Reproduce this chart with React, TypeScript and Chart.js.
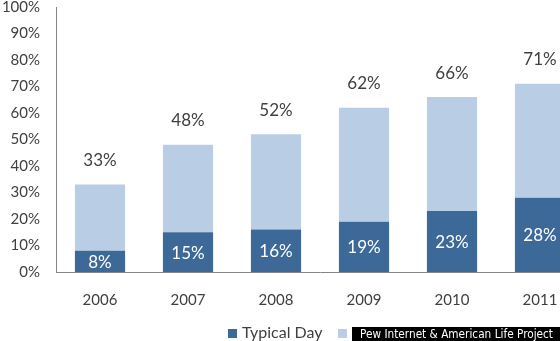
import React, { useEffect, useRef } from "react";
import { Chart, registerables } from "chart.js";

Chart.register(...registerables);

const years = ["2006", "2007", "2008", "2009", "2010", "2011"];
const typicalDay = [8, 15, 16, 19, 23, 28];
const totals = [33, 48, 52, 62, 66, 71];
const yTicks = [0, 10, 20, 30, 40, 50, 60, 70, 80, 90, 100];

const DARK = "#3C6997";
const LIGHT = "#B9CDE4";
const TEXT = "#404040";
const FONT = "Lato, 'Open Sans', sans-serif";

export default function App() {
  const ref = useRef<HTMLCanvasElement>(null);

  useEffect(() => {
    document.body.style.margin = "0";
    const canvas = ref.current!;
    const labelPlugin = {
      id: "labels",
      afterDatasetsDraw(chart: any) {
        const ctx = chart.ctx;
        const yScale = chart.scales.y;
        const meta0 = chart.getDatasetMeta(0);
        ctx.save();
        ctx.textAlign = "center";
        ctx.textBaseline = "middle";
        ctx.font = `17px ${FONT}`;
        meta0.data.forEach((bar: any, i: number) => {
          ctx.fillStyle = "#FFFFFF";
          ctx.fillText(typicalDay[i] + "%", bar.x, (bar.y + bar.base) / 2 + 1);
          ctx.fillStyle = TEXT;
          ctx.fillText(totals[i] + "%", bar.x, yScale.getPixelForValue(totals[i]) - 24);
        });
        ctx.restore();
      },
      afterDraw(chart: any) {
        const ctx = chart.ctx;
        ctx.save();
        ctx.fillStyle = DARK;
        ctx.fillRect(228, 329, 9, 9);
        ctx.fillStyle = TEXT;
        ctx.font = `16px ${FONT}`;
        ctx.textAlign = "left";
        ctx.textBaseline = "alphabetic";
        ctx.fillText("Typical Day", 242, 338);
        ctx.fillStyle = LIGHT;
        ctx.fillRect(338, 329, 9, 9);
        ctx.fillStyle = "#000000";
        ctx.fillRect(352, 327, 220, 16);
        ctx.fillStyle = "#FFFFFF";
        ctx.font = `12px 'DejaVu Sans', sans-serif`;
        ctx.textBaseline = "middle";
        ctx.fillText("Pew Internet & American Life Project", 360, 335, 193);
        ctx.restore();
      },
    };

    const chart = new Chart(canvas, {
      type: "bar",
      data: {
        labels: years,
        datasets: [
          {
            label: "Typical Day",
            data: typicalDay,
            backgroundColor: DARK,
            barPercentage: 0.57,
            categoryPercentage: 1,
          },
          {
            label: "Ever",
            data: totals.map((t, i) => t - typicalDay[i]),
            backgroundColor: LIGHT,
            barPercentage: 0.57,
            categoryPercentage: 1,
          },
        ],
      },
      options: {
        responsive: false,
        animation: false,
        layout: { padding: { top: 7, left: 0, right: 6, bottom: 0 } },
        plugins: { legend: { display: false }, tooltip: { enabled: false } },
        scales: {
          x: {
            stacked: true,
            grid: { display: false, drawTicks: false },
            border: { display: true, color: "#868686" },
            ticks: { color: TEXT, font: { family: FONT, size: 15 }, padding: 19 },
            afterFit: (s: any) => {
              s.height = 69;
              s.paddingLeft = 0;
              s.paddingRight = 0;
            },
          },
          y: {
            stacked: true,
            min: 0,
            max: 100,
            grid: { display: false, drawTicks: false },
            border: { display: true, color: "#868686" },
            afterBuildTicks: (s: any) => {
              s.ticks = yTicks.map((v) => ({ value: v }));
            },
            ticks: {
              color: TEXT,
              font: { family: FONT, size: 15 },
              padding: 16,
              callback: (v: any) => v + "%",
            },
            afterFit: (s: any) => {
              s.width = 56;
              s.paddingTop = 0;
              s.paddingBottom = 0;
            },
          },
        },
      },
      plugins: [labelPlugin],
    });
    return () => chart.destroy();
  }, []);

  return (
    <div style={{ width: 560, height: 341, overflow: "hidden", position: "relative" }}>
      <canvas ref={ref} width={590} height={341} style={{ display: "block" }} />
    </div>
  );
}
